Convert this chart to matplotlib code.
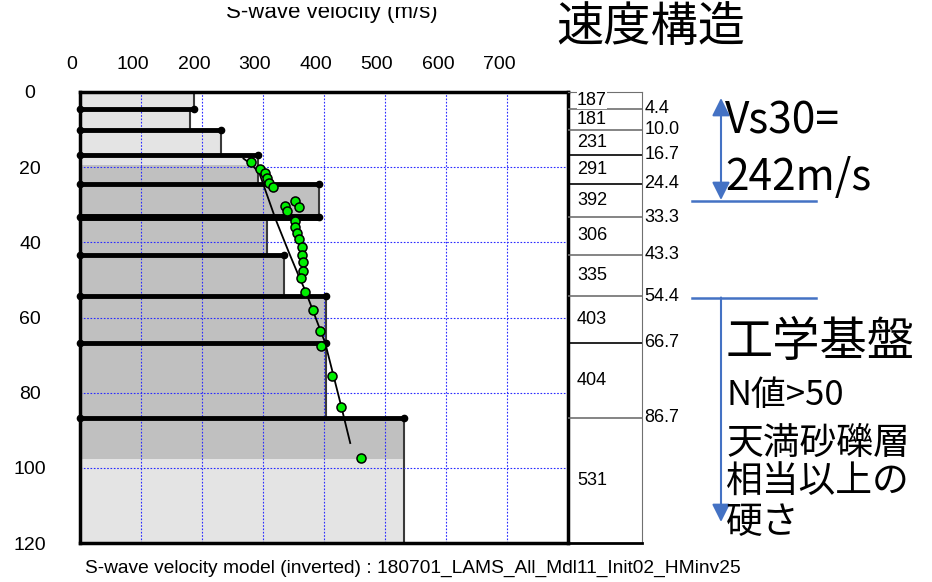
import matplotlib.pyplot as plt
import matplotlib.transforms as mtransforms
from matplotlib.patches import Rectangle, FancyArrowPatch
from matplotlib.lines import Line2D

plt.rcParams['font.family'] = ['Liberation Sans', 'DejaVu Sans']
JP = ['Noto Sans CJK JP', 'DejaVu Sans']

# inverted layer model
depth_bounds = [0, 4.4, 10.0, 16.7, 24.4, 33.3, 43.3, 54.4, 66.7, 86.7, 120]
vs_layers = [187, 181, 231, 291, 392, 306, 335, 403, 404, 531]
depth_labels = ['4.4', '10.0', '16.7', '24.4', '33.3', '43.3', '54.4', '66.7', '86.7']

# observed points
obs_vs = [281, 295, 304, 307, 310, 316, 336, 340, 353, 359, 352, 353, 356, 359,
          364, 364, 365, 365, 363, 369, 382, 393, 395, 413, 428, 460]
obs_depth = [18.5, 20.6, 21.6, 23.0, 24.1, 25.2, 30.3, 31.6, 28.9, 30.7, 34.2, 35.8, 37.4, 39.1,
             41.3, 43.3, 45.3, 47.5, 49.6, 53.1, 58.0, 63.5, 67.7, 75.5, 83.7, 97.3]

# fitted curve
fit_vs = [268, 282, 294, 299, 321, 343, 359, 370, 402, 427, 443]
fit_depth = [17.7, 19.4, 21.6, 23.9, 34.0, 42.9, 49.1, 53.1, 66.8, 82.8, 93.4]

data_top, data_bot = 19.3, 97.6

W, H = 932, 582
def fx(x): return x / W
def fy(y): return 1 - y / H

blue = '#4472C4'

fig = plt.figure(figsize=(9.32, 5.82), dpi=100)
ax = fig.add_axes([fx(80), fy(543), fx(568) - fx(80), fy(92) - fy(543)])

# filled profile
ax.stairs(vs_layers, depth_bounds, orientation='horizontal', baseline=0,
          fill=True, color='#e4e4e4', zorder=1)
dark = ax.stairs(vs_layers, depth_bounds, orientation='horizontal', baseline=0,
                 fill=True, color='#c0c0c0', zorder=1.1)
clip = Rectangle((0, data_top), 800, data_bot - data_top, transform=ax.transData)
dark.set_clip_path(clip)
ax.stairs(vs_layers, depth_bounds, orientation='horizontal', baseline=None,
          fill=False, color='#3a3a3a', lw=1.5, zorder=2)

# grid
for v in range(100, 800, 100):
    ax.axvline(v, color='#2a2aff', lw=0.8, ls=(0, (1.5, 1.5)), zorder=2.5)
for d in range(20, 120, 20):
    ax.axhline(d, color='#2a2aff', lw=0.8, ls=(0, (1.5, 1.5)), zorder=2.5)

# layer boundaries
for i, d in enumerate(depth_bounds[1:-1]):
    vmax = max(vs_layers[i], vs_layers[i + 1])
    lw = 5 if depth_labels[i] == '33.3' else 3.5
    ax.plot([0, vmax], [d, d], color='k', lw=lw, zorder=4, solid_capstyle='butt')
    ax.plot([0, vmax], [d, d], 'o', color='k', ms=4.5, zorder=4, clip_on=False)

ax.plot(fit_vs, fit_depth, color='k', lw=1.3, zorder=5)
ax.plot(obs_vs, obs_depth, 'o', mfc='#00ee00', mec='k', mew=1.1, ms=6.5, zorder=6)

ax.set_xlim(0, 800)
ax.set_ylim(120, 0)
ax.xaxis.tick_top()
ax.set_xticks(range(0, 800, 100))
ax.set_yticks(range(0, 121, 20))
ax.tick_params(length=0, labelsize=14)
ax.tick_params(axis='x', pad=14)
ax.tick_params(axis='y', pad=36)
off = mtransforms.ScaledTranslation(-8 / 100, 0, fig.dpi_scale_trans)
for lab in ax.get_xticklabels():
    lab.set_transform(lab.get_transform() + off)
for lab in ax.get_yticklabels():
    lab.set_horizontalalignment('center')
for s in ax.spines.values():
    s.set_linewidth(2.5)
    s.set_zorder(7)

# table of velocities
tb = fig.add_axes([fx(568), fy(543), fx(642) - fx(568), fy(92) - fy(543)])
tb.set_xlim(0, 1)
tb.set_ylim(120, 0)
tb.set_xticks([])
tb.set_yticks([])
tb.patch.set_alpha(0)
tb.spines['left'].set_visible(False)
tb.spines['top'].set_color('#707070')
tb.spines['right'].set_color('#707070')
tb.spines['bottom'].set_linewidth(2)
line_cols = ['#707070', '#707070', 'k', 'k', '#707070', '#707070', '#707070', 'k', '#707070']
for d, c in zip(depth_bounds[1:-1], line_cols):
    tb.plot([0, 1], [d, d], color=c, lw=1.2)
for i, v in enumerate(vs_layers):
    mid = (depth_bounds[i] + depth_bounds[i + 1]) / 2
    tb.text(0.12, mid, str(v), fontsize=13, va='center', ha='left',
            bbox=dict(facecolor='white', edgecolor='none', pad=0.3), zorder=5)
for d, lab in zip(depth_bounds[1:-1], depth_labels):
    tb.text(1.03, d, lab, fontsize=13, va='center', ha='left')

# titles (top axis title is cut by the image edge)
fig.text(fx(332), fy(18), 'S-wave velocity (m/s)', fontsize=16, ha='center', va='baseline', zorder=3)
fig.add_artist(Rectangle((0, fy(7)), 0.6, 7 / H, transform=fig.transFigure,
                         facecolor='white', edgecolor='none', zorder=10))
fig.text(fx(85), fy(568), 'S-wave velocity model (inverted) : 180701_LAMS_All_Mdl11_Init02_HMinv25',
         fontsize=13.8, ha='left', va='center')
fig.text(fx(556), fy(28), '速度構造', fontsize=34, family=JP, ha='left', va='center')

# Vs30 annotation
fig.add_artist(Line2D([fx(692), fx(816)], [fy(200.5)] * 2, transform=fig.transFigure,
                      color=blue, lw=1.8))
fig.add_artist(FancyArrowPatch((fx(721), fy(200)), (fx(721), fy(98)), transform=fig.transFigure,
                               arrowstyle='<|-|>', mutation_scale=27, color=blue, lw=1.5,
                               shrinkA=0, shrinkB=0))
fig.text(fx(725), fy(122), 'Vs30=', fontsize=30.5, family=JP, ha='left', va='center')
fig.text(fx(725), fy(178), '242m/s', fontsize=30.5, family=JP, ha='left', va='center')

# engineering bedrock annotation
fig.add_artist(Line2D([fx(692), fx(816)], [fy(297.5)] * 2, transform=fig.transFigure,
                      color=blue, lw=1.8))
fig.add_artist(FancyArrowPatch((fx(721), fy(297.5)), (fx(721), fy(522)), transform=fig.transFigure,
                               arrowstyle='-|>', mutation_scale=27, color=blue, lw=1.5,
                               shrinkA=0, shrinkB=0))
fig.text(fx(726), fy(343), '工学基盤', fontsize=34, family=JP, ha='left', va='center')
fig.text(fx(726), fy(395), 'N値>50', fontsize=25, family=JP, ha='left', va='center')
fig.text(fx(726), fy(443), '天満砂礫層', fontsize=26.5, family=JP, ha='left', va='center')
fig.text(fx(726), fy(482), '相当以上の', fontsize=26.5, family=JP, ha='left', va='center')
fig.text(fx(726), fy(523), '硬さ', fontsize=26.5, family=JP, ha='left', va='center')

fig.savefig('out.png', dpi=100)
